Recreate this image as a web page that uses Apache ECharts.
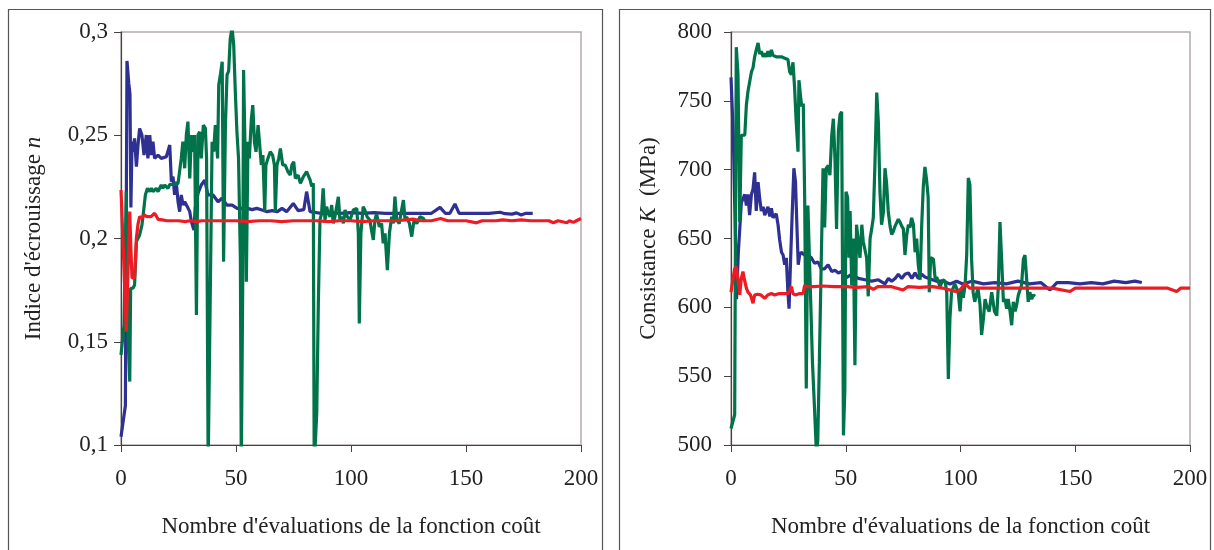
<!DOCTYPE html>
<html><head><meta charset="utf-8">
<script src="https://cdn.jsdelivr.net/npm/echarts@6/dist/echarts.min.js"></script>
<style>html,body{margin:0;padding:0;background:#fff}#c{width:1214px;height:550px}</style>
</head><body><div id="c"></div>
<script>
// ---- axis ticks ----
var xTicks = [0, 50, 100, 150, 200];
var nTicks = [0.1, 0.15, 0.2, 0.25, 0.3];
var kTicks = [500, 550, 600, 650, 700, 750, 800];
var xTitle = "Nombre d'évaluations de la fonction coût";
var nTitle = "Indice d'écrouissage ";
var kTitle = "Consistance ";

// ---- left panel: n (blue, green, red) ----
var nBlue = [[0,0.104],[1.9,0.119],[2.6,0.286],[3.4,0.275],[3.9,0.27],[4.3,0.215],[4.8,0.247],[5.2,0.242],[5.9,0.2485],[6.7,0.2348],[7.4,0.2453],[8.1,0.2533],[9.1,0.2501],[10,0.2404],[11,0.2501],[11.7,0.2388],[12.5,0.2501],[13.2,0.2404],[13.9,0.2469],[14.6,0.2388],[16.1,0.2404],[17.5,0.2388],[19.7,0.2396],[20.4,0.2404],[21.2,0.2453],[21.9,0.2275],[22.6,0.23],[23.3,0.2211],[24,0.2275],[24.8,0.2178],[25.5,0.213],[26.2,0.2211],[27,0.2162],[27.7,0.2178],[29.2,0.2146],[29.9,0.213],[30.6,0.2082],[31.7,0.2041],[32.3,0.215],[33.5,0.2219],[34.9,0.2259],[36.4,0.2283],[37.8,0.2211],[40,0.2211],[42.2,0.2178],[43.9,0.2195],[46,0.2162],[48.3,0.2162],[50.5,0.2146],[52.6,0.2146],[55,0.2146],[57,0.214],[59,0.2146],[61.3,0.2138],[63.5,0.213],[65.7,0.2135],[68,0.213],[70,0.2146],[72,0.213],[74.9,0.217],[77,0.2135],[79.5,0.214],[80.7,0.2227],[82.2,0.213],[85,0.2125],[88,0.212],[91,0.2127],[95,0.2122],[100,0.2125],[105,0.2122],[110,0.2125],[115,0.2122],[120,0.2122],[125,0.2122],[130,0.2122],[135,0.2122],[138.7,0.2151],[141,0.2122],[143,0.2122],[145.2,0.2167],[147,0.2122],[150,0.2122],[155,0.2122],[160,0.2122],[164.8,0.2127],[167,0.212],[170,0.2118],[172,0.2124],[174,0.2114],[176,0.2122],[179,0.2122]];
var nGreen = [[0,0.1436],[1.3,0.1581],[2.3,0.2227],[2.8,0.16],[3.8,0.1307],[4.2,0.1759],[5.2,0.1759],[5.9,0.1775],[6.7,0.1985],[7.4,0.1993],[8.1,0.2017],[9.1,0.2065],[9.8,0.213],[10.6,0.2211],[11.5,0.2243],[12.5,0.2227],[13.2,0.2243],[13.9,0.2227],[14.6,0.2219],[15.3,0.2243],[16.1,0.2227],[16.8,0.2243],[17.5,0.2259],[18.2,0.2243],[19,0.2259],[19.7,0.2267],[20.4,0.2243],[21.2,0.2262],[21.9,0.2259],[23.3,0.2262],[24.8,0.2267],[25.5,0.2275],[26.2,0.2388],[26.9,0.2469],[27.7,0.234],[28.4,0.2501],[29.1,0.2566],[29.9,0.2291],[30.6,0.2501],[31.3,0.242],[32,0.2501],[32.8,0.163],[33.5,0.2501],[34.2,0.2517],[34.9,0.2388],[35.8,0.2549],[36.7,0.2533],[37.2,0.2388],[37.9,0.09],[39,0.19],[39.6,0.2469],[40.3,0.242],[41,0.2549],[41.5,0.2549],[42,0.2388],[42.5,0.2743],[43.3,0.28],[44,0.2856],[44.6,0.1888],[45.4,0.2549],[46.1,0.2792],[46.8,0.281],[47.5,0.2969],[48.3,0.302],[49,0.2937],[49.7,0.271],[50.4,0.2517],[51.1,0.2388],[51.9,0.1904],[52.3,0.09],[52.9,0.1743],[53.3,0.2816],[54,0.2388],[54.5,0.1791],[55.2,0.2469],[55.8,0.2388],[56.7,0.2582],[57.3,0.2646],[58,0.2469],[58.7,0.242],[59.6,0.2549],[60.3,0.2549],[61,0.2356],[61.7,0.2404],[62.5,0.213],[63,0.2356],[63.9,0.2388],[64.9,0.242],[65.9,0.2404],[66.7,0.2356],[67.1,0.213],[67.8,0.2356],[68.6,0.2388],[69.3,0.2436],[70.3,0.2356],[71.4,0.2356],[72.6,0.2323],[73.6,0.2307],[74.3,0.2356],[75.1,0.2372],[75.8,0.2291],[77,0.2307],[78,0.2267],[78.7,0.2275],[79.3,0.23],[80.7,0.2324],[82.2,0.2284],[82.9,0.2252],[83.6,0.2268],[84,0.09],[85.1,0.1153],[85.8,0.1686],[86.5,0.2089],[87.2,0.2122],[87.9,0.2243],[88.7,0.2089],[89.4,0.2154],[90.1,0.2122],[90.9,0.2105],[91.6,0.2162],[92.3,0.2073],[93,0.2105],[94.5,0.2202],[95.2,0.2089],[95.9,0.2105],[96.7,0.2073],[97.4,0.2138],[98.4,0.2105],[99.6,0.2089],[101,0.2138],[102.5,0.2146],[103.2,0.2025],[103.6,0.1589],[104.3,0.2025],[105.3,0.2154],[106,0.2138],[107,0.2105],[108.2,0.2089],[108.9,0.2041],[109.7,0.1993],[110.4,0.2089],[111.1,0.2121],[112.3,0.2057],[113.3,0.2073],[114,0.1977],[114.8,0.2025],[115.8,0.1847],[116.7,0.2025],[117.7,0.2105],[118.4,0.2073],[119.1,0.2203],[119.9,0.2089],[121,0.2073],[122,0.2138],[122.8,0.2186],[123.5,0.2089],[124.2,0.2105],[125.4,0.2073],[126.4,0.2009],[127.4,0.2089],[128.6,0.2073],[130,0.2105],[131.5,0.2097],[132.2,0.2082]];
var nRed = [[0,0.2235],[1,0.195],[2.3,0.1549],[3.2,0.19],[3.8,0.213],[4.3,0.195],[4.8,0.1809],[5.9,0.181],[6.7,0.2001],[7.4,0.207],[8.1,0.2106],[9,0.2098],[10.1,0.2114],[11.2,0.2106],[11.7,0.2098],[13,0.2106],[14.6,0.2122],[15.3,0.211],[16.1,0.2093],[18,0.209],[20,0.2086],[25,0.2086],[28,0.2082],[30,0.2086],[33,0.2082],[35,0.2086],[40,0.2086],[45,0.2086],[50,0.2086],[55,0.2082],[60,0.2086],[65,0.2086],[70,0.2082],[75,0.2086],[80,0.2086],[85,0.2086],[90,0.2082],[95,0.2086],[100,0.2086],[105,0.2082],[110,0.2086],[115,0.2086],[120,0.2086],[127,0.2094],[130,0.2086],[135,0.2086],[139,0.2097],[142,0.2086],[150,0.2086],[154.6,0.2076],[157,0.2086],[163,0.2086],[166,0.209],[170,0.2086],[174,0.209],[178,0.2086],[186,0.2086],[188,0.2076],[190,0.2086],[193.8,0.2076],[195,0.2086],[196.7,0.2078],[198,0.2086],[200,0.2097]];

// ---- right panel: K (blue, green, red) ----
var kBlue = [[0,767],[1,725],[1.8,660],[2.4,606],[3.2,640],[4.5,676],[5.2,677],[6,682],[6.7,674],[7.4,682],[8.1,667],[8.9,682],[9.6,686],[10.3,698],[11,670],[11.8,691],[12.5,679],[13.2,670],[14,673],[14.7,667],[16.1,673],[16.9,666],[17.6,672],[18.3,665],[19.7,668],[20.5,660],[21.2,649],[22,640],[22.7,638],[23.4,631],[24.1,636],[24.8,611],[25.3,599],[26,636],[26.6,665],[27.4,701],[28.1,691],[28.9,650],[29.3,631],[29.9,638],[30.6,640],[32,638],[33.5,638],[35,636],[36.4,632],[37.9,633],[39.3,628],[40.8,628],[42.3,631],[43.9,626],[45.3,627],[46.8,625],[48.2,626],[49.7,621],[52.6,624],[55.5,621],[58.4,620],[61.3,619],[64.2,620],[67.1,617],[68.6,621],[70,619],[71.5,621],[72.9,624],[74.4,621],[75.8,624],[77.3,625],[78.8,621],[80.2,625],[81.6,621],[83.1,624],[84.5,622],[89.6,619],[92.5,619],[95.4,617],[98.3,619],[101,617],[105,619],[110,617],[115,618],[120,617],[125,619],[130,617],[135,618],[139,612.6],[142,618],[147,618],[152,617],[157,618],[162,617],[167,619],[172,618],[176,619],[179,618]];
var kGreen = [[0,512],[1.6,522],[2.3,789],[3.05,769],[3.8,662],[4.5,725],[5.2,726],[6,725],[6.7,747],[7.4,757],[8.1,758],[8.9,771],[9.6,774],[10.3,782],[11,787],[11.8,792],[12.5,784],[13.2,786],[14,782],[14.7,784.5],[15.4,782],[16.1,786],[16.9,782],[17.6,787],[18.3,783],[19.7,782],[20.5,783],[22,782],[23.4,781],[24.8,780],[25.6,771],[26.3,769],[27,778],[27.7,760],[28.4,735],[29.2,713],[29.6,765],[30.2,755],[30.8,746],[31.5,748],[32.1,680],[32.8,541],[33.5,674],[34.2,673],[34.8,600],[35.5,560],[36.3,530],[37.2,495],[37.8,503],[38.5,560],[39.4,640],[40.1,701],[40.8,658],[41.5,701],[42.4,703],[43.1,696],[43.9,725],[44.6,737],[45.3,708],[46,657],[46.8,728],[47.5,740],[48.2,742],[49,507],[49.6,540],[50.1,684],[50.8,680],[51.4,636],[51.9,670],[52.6,616],[53.3,650],[54,558],[54.7,660],[55.5,661],[56.2,636],[57,660],[57.6,648],[58.4,648],[59.1,636],[59.8,608],[60.6,650],[61.3,657],[62,665],[62.7,703],[63.5,756],[64.2,735],[64.9,684],[65.6,660],[66.4,669],[67.1,701],[67.8,690],[68.5,670],[69.3,659],[70,653],[70.7,655],[71.5,659],[72.9,664],[73.6,662],[74.4,659],[75.1,657],[75.8,638],[76.6,653],[77.3,660],[78,658],[78.7,665],[79.5,660],[80.2,640],[80.9,650],[81.6,631],[82.4,620],[83.1,660],[83.8,688],[84.5,702],[85.2,693],[85.9,680],[86.4,611],[87,636],[88.2,635],[89,620],[89.6,622],[91.1,615],[92.3,620],[93.3,619],[94,611],[94.7,548],[95.4,592],[96.1,611],[97.5,617],[99,611],[99.8,597],[100.5,614],[101.2,607],[102,616],[102.7,638],[103.4,694],[104.1,689],[104.8,636],[105.5,611],[106.2,604],[107.6,614],[108.5,602],[109.2,580],[110,592],[110.7,606],[111.4,601],[112.5,597],[113.6,611],[114.8,597],[115.8,594],[116.5,616],[117.2,662],[117.9,636],[118.7,604],[119.4,606],[120.1,599],[120.8,606],[121.6,597],[122.3,587],[123,604],[123.8,597],[124.5,602],[125.2,609],[126.6,616],[127.4,635],[128.1,638],[128.8,621],[129.5,604],[130.2,611],[131,606],[131.7,609],[132.5,608]];
var kRed = [[0,611],[0.8,620],[1.6,628],[2.3,629.5],[3,621],[3.8,609],[4.5,621],[5.2,626],[6,619],[6.7,614],[7.4,611],[8.5,609],[9.6,603],[10.3,609],[11.5,609.5],[13,609],[14.7,606.5],[16,609],[17.6,610],[19,609],[21,610],[23,610],[24.8,610],[25.6,612],[26.3,615],[27,610],[28,609],[30,610],[31.4,610],[32.1,616],[33,615],[36,615],[40,615.5],[45,615],[50,615],[55,614.5],[60,615],[62,613],[64,615],[70,615],[75,612.6],[77,615],[82,614.5],[88,615],[92,614],[98.3,611.4],[100,613],[102,617.4],[104,614],[110,614],[120,614],[130,614],[140,614],[147.7,611.5],[150,614],[160,614],[170,614],[180,614],[190,614],[194.2,611.5],[196,614],[200,614]];

var BLUE = '#2e3092', GREEN = '#00734a', RED = '#ed1c24';
var FONT = 'Liberation Serif';
var TICK_FS = 23, TITLE_FS = 23;

function fmtComma(v){ return String(+v.toFixed(2)).replace('.', ','); }

function xAxisCfg(gi){
  return {
    type:'value', gridIndex:gi, min:xTicks[0], max:xTicks[xTicks.length-1], interval:xTicks[1]-xTicks[0],
    name:xTitle, nameLocation:'middle', nameGap:70,
    nameTextStyle:{fontFamily:FONT, fontSize:TITLE_FS, color:'#222'},
    axisLine:{lineStyle:{color:'#444', width:1.2}},
    axisTick:{inside:false, length:7, lineStyle:{color:'#444'}},
    axisLabel:{fontFamily:FONT, fontSize:TICK_FS, color:'#222', margin:22},
    splitLine:{show:false}
  };
}
function yAxisCfg(gi, min, max, interval, name, fmt, gap, margin, pad){
  return {
    type:'value', gridIndex:gi, min:min, max:max, interval:interval,
    name:name, nameLocation:'middle', nameGap:gap,
    nameTextStyle:{fontFamily:FONT, fontSize:TITLE_FS, color:'#222', padding:pad,
      rich:{i:{fontFamily:FONT, fontSize:TITLE_FS, fontStyle:'italic', color:'#222'}}},
    axisLine:{show:true, lineStyle:{color:'#444', width:1.2}},
    axisTick:{show:true, inside:false, length:7, lineStyle:{color:'#444'}},
    axisLabel:{fontFamily:FONT, fontSize:TICK_FS, color:'#222', margin:margin, formatter:fmt},
    splitLine:{show:false}
  };
}
function lineS(data, color, xi, yi){
  return {type:'line', data:data, xAxisIndex:xi, yAxisIndex:yi, showSymbol:false, symbol:'none',
    clip:true, lineStyle:{color:color, width:3.2}, itemStyle:{color:color}, animation:false};
}

var chart = echarts.init(document.getElementById('c'), null, {renderer:'canvas'});
chart.setOption({
  backgroundColor:'#fff',
  animation:false,
  graphic:[
    {type:'rect', shape:{x:8.5, y:9.5, width:594, height:600}, style:{fill:'none', stroke:'#555', lineWidth:1.2}, silent:true, z:-10},
    {type:'rect', shape:{x:619.5, y:9.5, width:591, height:600}, style:{fill:'none', stroke:'#555', lineWidth:1.2}, silent:true, z:-10}
  ],
  grid:[
    {left:121, top:32, width:460, height:413, show:true, borderColor:'#b3aaa8', borderWidth:1.5, backgroundColor:'transparent'},
    {left:731, top:32, width:459, height:413, show:true, borderColor:'#b3aaa8', borderWidth:1.5, backgroundColor:'transparent'}
  ],
  xAxis:[xAxisCfg(0), xAxisCfg(1)],
  yAxis:[
    yAxisCfg(0, nTicks[0], nTicks[nTicks.length-1], nTicks[1]-nTicks[0], nTitle + '{i|n}', fmtComma, 76, 13, [0,0,0,0]),
    yAxisCfg(1, kTicks[0], kTicks[kTicks.length-1], kTicks[1]-kTicks[0], kTitle + '{i|K}  (MPa)', function(v){return String(v);}, 71, 19, [0,0,0,0])
  ],
  series:[
    lineS(nBlue, BLUE, 0, 0),
    lineS(nGreen, GREEN, 0, 0),
    lineS(nRed, RED, 0, 0),
    lineS(kBlue, BLUE, 1, 1),
    lineS(kGreen, GREEN, 1, 1),
    lineS(kRed, RED, 1, 1)
  ]
});
</script>
</body></html>
